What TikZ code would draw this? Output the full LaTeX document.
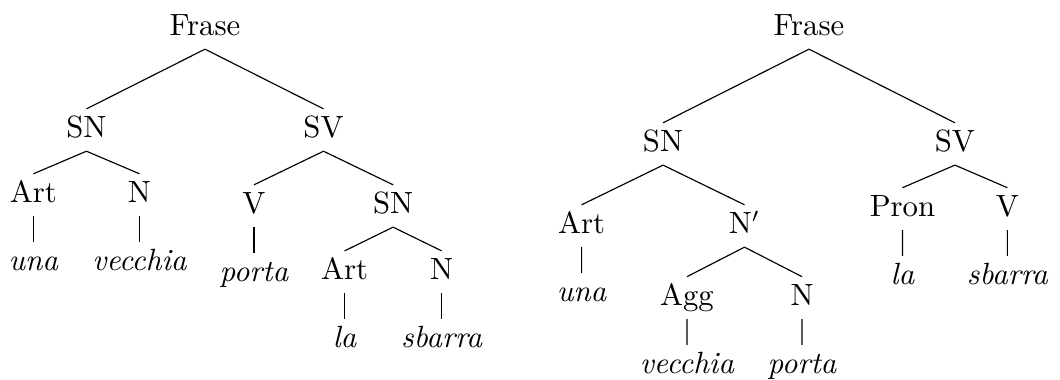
\documentclass[tikz,border=0pt]{standalone}
\tikzset{
  synnode/.style = {font=\fontsize{10.6pt}{13pt}\selectfont,
    text height=1.5ex, text depth=.25ex},
  wordnode/.style = {synnode, font=\fontsize{10.6pt}{13pt}\selectfont\itshape},
  wordlink/.style = {level distance=23.5pt}}

\begin{document}
\begin{tikzpicture}[x=0.345pt, y=-0.345pt, every node/.style={synnode},
  edge from parent path={(\tikzparentnode.south) -- (\tikzchildnode.north)}]
\useasboundingbox (0,0) rectangle (1060,379);

% prima frase
\node (fraseL) at (205,28) {Frase} [sibling distance=81.8pt, level distance=35.2pt]
	child{ node (snL) {SN} [sibling distance=36.6pt, level distance=22.4pt]
		child{ node (artL) {Art}
			child[wordlink]{ node[wordnode] (unaL) {una} } }
		child{ node (nL) {N}
			child[wordlink]{ node[wordnode] (vecchiaL) {vecchia} } } }
	child{ node (svL) {SV} [sibling distance=48pt, level distance=26.2pt]
		child{ node (vL) {V}
			child[wordlink]{ node[wordnode] (portaL) {porta} } }
		child{ node (snbL) {SN} [sibling distance=33.5pt, level distance=22.8pt]
			child{ node (artbL) {Art}
				child[wordlink]{ node[wordnode] (laL) {la} } }
			child{ node (nbL) {N}
				child[wordlink]{ node[wordnode] (sbarraL) {sbarra} } } } }
;

% seconda frase
\node (fraseR) at (809,28) {Frase} [sibling distance=100.7pt, level distance=40pt]
	child{ node (snR) {SN} [sibling distance=56.2pt, level distance=28.3pt]
		child{ node (artR) {Art}
			child[wordlink]{ node[wordnode] (unaR) {una} } }
		child{ node (nbarR) {N$'$} [sibling distance=39.7pt, level distance=24.8pt]
			child{ node (aggR) {Agg}
				child[wordlink]{ node[wordnode] (vecchiaR) {vecchia} } }
			child{ node (nR) {N}
				child[wordlink]{ node[wordnode] (portaR) {porta} } } } }
	child{ node (svR) {SV} [sibling distance=36.2pt, level distance=22.4pt]
		child{ node (pronR) {Pron}
			child[wordlink]{ node[wordnode] (laR) {la} } }
		child{ node (vR) {V}
			child[wordlink]{ node[wordnode] (sbarraR) {sbarra} } } }
;
\end{tikzpicture}
\end{document}
